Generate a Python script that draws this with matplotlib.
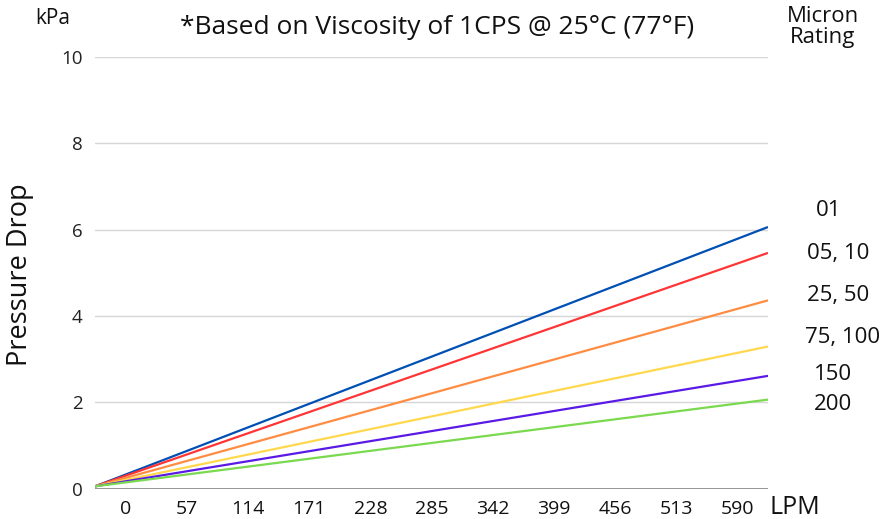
import matplotlib
matplotlib.use("Agg")
import matplotlib.pyplot as plt
import numpy as np

# Data
x_labels = ["0", "57", "114", "171", "228", "285", "342", "399", "456", "513", "590"]
series_names = ["01", "05, 10", "25, 50", "75, 100", "150", "200"]
start_values = [0.05, 0.05, 0.05, 0.05, 0.05, 0.05]
end_values = [6.06, 5.46, 4.36, 3.29, 2.61, 2.06]
colors = ["#0050B4", "#FF3535", "#FF8C42", "#FFD84D", "#5A1AE6", "#7AD94F"]
y_ticks = [0, 2, 4, 6, 8, 10]

W, H = 883, 519
fig = plt.figure(figsize=(W / 100, H / 100), dpi=100)

narrow = ["Liberation Sans Narrow", "Open Sans", "DejaVu Sans"]
sans = ["Open Sans", "DejaVu Sans"]

def fx(px):
    return px / W

def fy(py):
    return 1 - py / H

ax = fig.add_axes([fx(95), fy(488.5), fx(768) - fx(95), fy(57) - fy(488.5)])
n = len(x_labels)
ax.set_xlim(0, n)
ax.set_ylim(0, 10)

for s, e, c in zip(start_values, end_values, colors):
    ax.plot([0, n], [s, e], color=c, lw=1.6, solid_capstyle="butt", zorder=3)

for yv in y_ticks[1:]:
    ax.axhline(yv, color="#D6D6D6", lw=1.0, zorder=1)
ax.axhline(0, color="#8C8C8C", lw=1.3, zorder=2)

for sp in ax.spines.values():
    sp.set_visible(False)

ax.set_yticks(y_ticks)
ax.set_yticklabels([str(v) for v in y_ticks], fontfamily=sans, fontsize=13.5, color="#222222")
ax.set_xticks(np.arange(n) + 0.5)
ax.set_xticklabels(x_labels, fontfamily=narrow, fontsize=14, color="#111111")
ax.tick_params(axis="both", length=0)
ax.tick_params(axis="y", pad=9)
ax.tick_params(axis="x", pad=8)

# texts
fig.text(fx(53), fy(19), "kPa", ha="center", va="center", fontfamily=narrow, fontsize=15, color="#111111")
fig.text(fx(437), fy(27), "*Based on Viscosity of 1CPS @ 25°C (77°F)", ha="center", va="center",
         fontfamily=narrow, fontsize=19, color="#111111")
fig.text(fx(823), fy(27), "Micron\nRating", ha="center", va="center", fontfamily=narrow,
         fontsize=16, color="#111111", linespacing=1.0)
fig.text(fx(20), fy(275), "Pressure Drop", ha="center", va="center", rotation=90,
         fontfamily=sans, fontsize=19.5, color="#111111")
fig.text(fx(795), fy(507), "LPM", ha="center", va="center", fontfamily=narrow, fontsize=18, color="#111111")

label_pos = [(829, 210), (838, 253), (838, 296), (843, 338), (833, 375), (833, 405)]
for name, (px, py) in zip(series_names, label_pos):
    fig.text(fx(px), fy(py), name, ha="center", va="center", fontfamily=sans, fontsize=16, color="#111111")

fig.savefig("out.png", dpi=100)
